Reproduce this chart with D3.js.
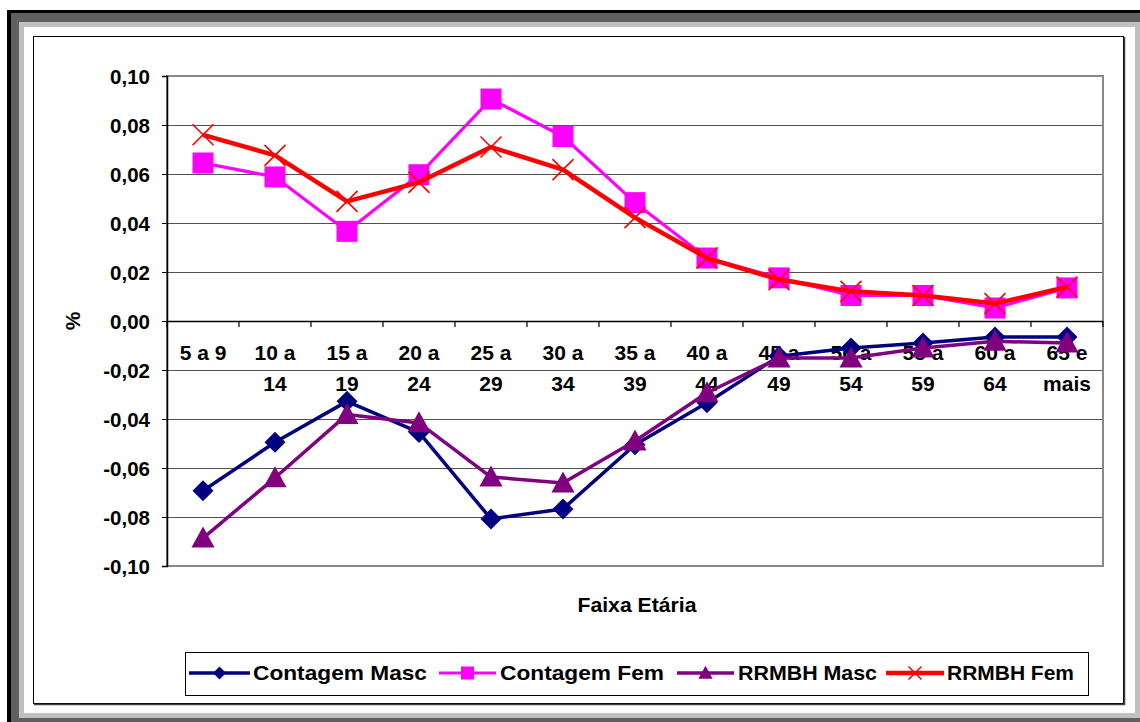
<!DOCTYPE html>
<html><head><meta charset="utf-8">
<script src="https://cdn.jsdelivr.net/npm/d3@7"></script>
<style>body{margin:0;background:#fff}svg{display:block}text{font-family:"Liberation Sans",Arial,sans-serif;font-weight:bold;fill:#000}</style>
</head><body><svg id="c" width="1140" height="722"></svg>
<script>
const categoriesTop = ["5 a 9","10 a","15 a","20 a","25 a","30 a","35 a","40 a","45 a","50 a","55 a","60 a","65 e"];
const categoriesBottom = ["","14","19","24","29","34","39","44","49","54","59","64","mais"];
const contagemMasc = [-0.0693,-0.0495,-0.0328,-0.0455,-0.0808,-0.0767,-0.0505,-0.0334,-0.0144,-0.0110,-0.0090,-0.0065,-0.0065];
const contagemFem  = [0.0645,0.0588,0.0366,0.0597,0.0906,0.0753,0.0483,0.0257,0.0176,0.0104,0.0104,0.0053,0.0135];
const rrmbhMasc    = [-0.0886,-0.0640,-0.0382,-0.0416,-0.0637,-0.0661,-0.0490,-0.0293,-0.0151,-0.0151,-0.0110,-0.0083,-0.0090];
const rrmbhFem     = [0.0760,0.0676,0.0488,0.0566,0.0710,0.0618,0.0422,0.0257,0.0169,0.0121,0.0104,0.0071,0.0139];
const yTicks = [-0.10,-0.08,-0.06,-0.04,-0.02,0,0.02,0.04,0.06,0.08,0.10];
const seriesNames = ["Contagem Masc","Contagem Fem","RRMBH Masc","RRMBH Fem"];

const svg = d3.select("#c");
// frame
svg.append("rect").attr("x",7).attr("y",10).attr("width",1133).attr("height",712).attr("fill","#000");
svg.append("rect").attr("x",11).attr("y",13).attr("width",1129).attr("height",709).attr("fill","#606060");
svg.append("rect").attr("x",19).attr("y",22).attr("width",1121).attr("height",696).attr("fill","#c0c0c0");
svg.append("rect").attr("x",24).attr("y",27).attr("width",1111).attr("height",686).attr("fill","#fff");
svg.append("rect").attr("x",33.5).attr("y",36.5).attr("width",1090).attr("height",667).attr("fill","none").attr("stroke","#000").attr("stroke-width",1);
svg.append("line").attr("x1",1124.5).attr("x2",1124.5).attr("y1",37).attr("y2",705).attr("stroke","#404040").attr("stroke-width",1.5);
svg.append("line").attr("x1",34).attr("x2",1125).attr("y1",704.5).attr("y2",704.5).attr("stroke","#404040").attr("stroke-width",1.5);

const L=167, R=1103, T=76, B=566;
const x = d3.scaleBand().domain(d3.range(categoriesTop.length)).range([L,R]);
const cx = i => x(i)+x.bandwidth()/2;
const y = d3.scaleLinear().domain([-0.10,0.10]).range([B,T]);

// gridlines
const g = svg.append("g");
g.selectAll("line.grid").data(yTicks.filter(v=>v!==0 && v!==-0.10 && v!==0.10)).join("line")
  .attr("x1",L).attr("x2",R).attr("y1",d=>Math.round(y(d))+0.5).attr("y2",d=>Math.round(y(d))+0.5)
  .attr("stroke","#505050").attr("stroke-width",1);
// plot border
g.append("rect").attr("x",L).attr("y",T).attr("width",R-L).attr("height",B-T).attr("fill","none").attr("stroke","#888").attr("stroke-width",2);

// y axis
const yAxis = d3.axisLeft(y).tickValues(yTicks).tickSize(5).tickFormat(d=>d3.format(".2f")(d).replace(".",",").replace("−","-"));
const ya = svg.append("g").attr("transform",`translate(${L},0)`).call(yAxis);
ya.select(".domain").attr("stroke","#000").attr("stroke-width",1.5);
ya.selectAll(".tick line").attr("stroke","#000");
ya.selectAll(".tick text").attr("x",-17).attr("dy","0.36em").style("font-size","20.5px").style("font-family","'Liberation Sans',Arial,sans-serif").style("font-weight","bold").attr("fill","#000");

// zero axis
svg.append("line").attr("x1",L).attr("x2",R).attr("y1",Math.round(y(0))+0.5).attr("y2",Math.round(y(0))+0.5).attr("stroke","#000").attr("stroke-width",1.5);
svg.selectAll("line.xt").data(d3.range(categoriesTop.length+1)).join("line")
  .attr("x1",i=>i<categoriesTop.length?x(i):R).attr("x2",i=>i<categoriesTop.length?x(i):R)
  .attr("y1",y(0)).attr("y2",y(0)+6).attr("stroke","#000").attr("stroke-width",1.2);

// x labels
const lab = svg.append("g");
lab.selectAll("text.t1").data(categoriesTop).join("text").attr("x",(d,i)=>cx(i)).attr("y",360)
  .attr("text-anchor","middle").style("font-size","21px").text(d=>d);
lab.selectAll("text.t2").data(categoriesBottom).join("text").attr("x",(d,i)=>cx(i)).attr("y",391)
  .attr("text-anchor","middle").style("font-size","21px").text(d=>d);

// axis titles
svg.append("text").attr("x",(L+R)/2+2).attr("y",612).attr("text-anchor","middle").style("font-size","20px")
  .attr("textLength",119).attr("lengthAdjust","spacingAndGlyphs").text("Faixa Etária");
svg.append("text").attr("transform",`translate(80,${y(0)}) rotate(-90)`).attr("text-anchor","middle").style("font-size","21px").text("%");

// symbols
const sq = s => `M${-s/2},${-s/2}h${s}v${s}h${-s}Z`;
const dia = s => `M0,${-s/2}L${s/2},0L0,${s/2}L${-s/2},0Z`;
const tri = s => `M0,${-s*0.55}L${s*0.55},${s*0.45}L${-s*0.55},${s*0.45}Z`;
const crs = s => `M${-s/2},${-s/2}L${s/2},${s/2}M${s/2},${-s/2}L${-s/2},${s/2}`;

const series = [
  {name:seriesNames[0], vals:contagemMasc, color:"#000080", w:3.5, sym:dia, size:21, fill:true},
  {name:seriesNames[1], vals:contagemFem, color:"#FF00FF", w:3.2, sym:sq, size:21, fill:true},
  {name:seriesNames[2], vals:rrmbhMasc, color:"#800080", w:3.5, sym:tri, size:21, fill:true},
  {name:seriesNames[3], vals:rrmbhFem, color:"#FF0000", w:4.5, sym:crs, size:21, fill:false},
];
const line = d3.line().x((d,i)=>cx(i)).y(d=>y(d));
[0,2,1,3].forEach(k=>{
  const s = series[k];
  const gg = svg.append("g");
  gg.append("path").attr("d",line(s.vals)).attr("fill","none").attr("stroke",s.color).attr("stroke-width",s.w).attr("stroke-linejoin","round");
  gg.selectAll("path.m").data(s.vals).join("path").attr("class","m")
    .attr("transform",(d,i)=>`translate(${cx(i)},${y(d)})`)
    .attr("d",s.sym(s.size))
    .attr("fill",s.fill?s.color:"none").attr("stroke",s.color).attr("stroke-width",s.fill?0:1.6);
});

// legend
svg.append("rect").attr("x",185.5).attr("y",652.5).attr("width",903).attr("height",43).attr("fill","#fff").attr("stroke","#000").attr("stroke-width",1);
const legItems = [
  {lx1:189,lx2:250,tx:253,tw:174},
  {lx1:439,lx2:496,tx:500,tw:164},
  {lx1:677,lx2:734,tx:738,tw:139},
  {lx1:886,lx2:944,tx:947,tw:127},
];
series.forEach((s,k)=>{
  const it = legItems[k], ly=673;
  svg.append("line").attr("x1",it.lx1).attr("x2",it.lx2).attr("y1",ly).attr("y2",ly).attr("stroke",s.color).attr("stroke-width",s.w);
  svg.append("path").attr("transform",`translate(${(it.lx1+it.lx2)/2},${ly})`).attr("d",s.sym(13))
    .attr("fill",s.fill?s.color:"none").attr("stroke",s.color).attr("stroke-width",s.fill?0:1.5);
  svg.append("text").attr("x",it.tx).attr("y",ly+7).style("font-size","20.5px")
    .attr("textLength",it.tw).attr("lengthAdjust","spacingAndGlyphs").text(s.name);
});
</script></body></html>
